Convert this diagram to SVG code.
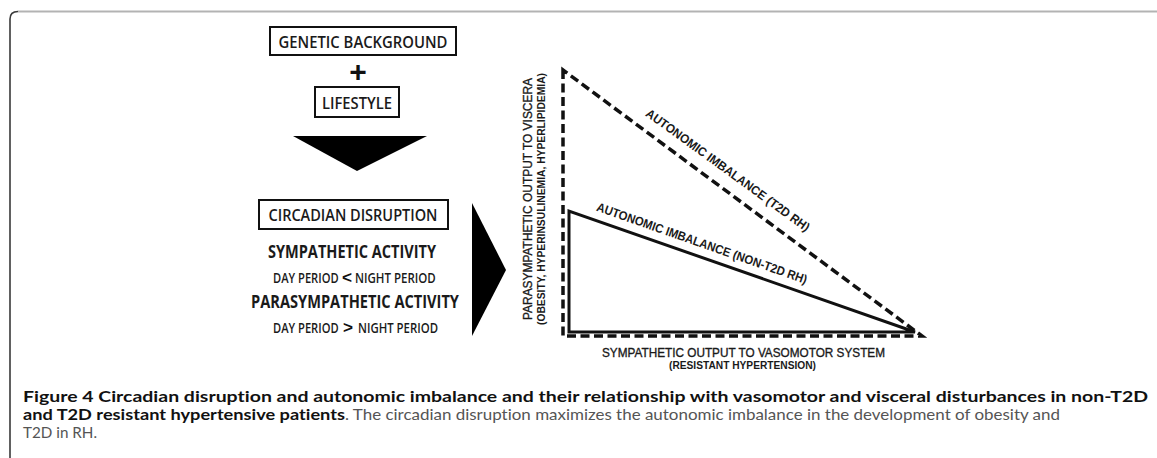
<svg xmlns="http://www.w3.org/2000/svg" width="1157" height="458" viewBox="0 0 1157 458">
<style>
.box{fill:#fff;stroke:#111;stroke-width:2}
.bt{font-family:"Open Sans","Liberation Sans",sans-serif;font-size:17px;font-weight:600;fill:#1a1a1a;text-anchor:middle}
.bb{font-family:"Open Sans","Liberation Sans",sans-serif;font-size:17px;font-weight:bold;fill:#1a1a1a;text-anchor:middle}
.sm{font-family:"Open Sans","Liberation Sans",sans-serif;font-size:14px;font-weight:600;fill:#1a1a1a}
.sym{font-family:"Liberation Sans",Arial,sans-serif;font-size:16px;font-weight:bold;fill:#111}
.ax{font-family:"Liberation Sans",Arial,sans-serif;fill:#1a1a1a;text-anchor:middle}
.med{stroke:#1a1a1a;stroke-width:0.35}
.dash{fill:none;stroke:#111;stroke-width:3.5;stroke-dasharray:9 4.5}
.solid{fill:none;stroke:#111;stroke-width:3}
.cap{font-family:Lato,"Open Sans",sans-serif;font-size:15px;font-variant-ligatures:none}
</style>
<rect width="1157" height="458" fill="#fff"/>
<g id="frame">
<path d="M10,458 V19 Q10,11.5 18,11.5" fill="none" stroke="#3a3a3a" stroke-width="1.6"/>
<path d="M18,11.5 H1157" fill="none" stroke="#b3b3b3" stroke-width="2"/>
</g>
<g id="genetic">
<rect class="box" x="270" y="27" width="186" height="28"/>
<text class="bt" x="363" y="47.5" textLength="169" lengthAdjust="spacingAndGlyphs">GENETIC BACKGROUND</text>
</g>
<g id="plus">
<text x="358" y="82" font-family="Liberation Sans,Arial,sans-serif" font-size="30" font-weight="bold" text-anchor="middle" fill="#111">+</text>
</g>
<g id="lifestyle">
<rect class="box" x="315" y="87" width="84" height="30"/>
<text class="bt" x="357" y="108.5" textLength="70" lengthAdjust="spacingAndGlyphs">LIFESTYLE</text>
</g>
<g id="connectors">
<polygon points="293,136 427,136 357,171" fill="#000"/>
<polygon points="472,203 506,270 472,336" fill="#000"/>
</g>
<g id="circadian">
<rect class="box" x="259" y="200" width="189" height="29"/>
<text class="bt" x="353" y="220.5" textLength="169" lengthAdjust="spacingAndGlyphs">CIRCADIAN DISRUPTION</text>
<text class="bb" x="352" y="258" textLength="168" lengthAdjust="spacingAndGlyphs">SYMPATHETIC ACTIVITY</text>
<text class="sm" transform="translate(273,283) scale(0.8,1)" textLength="82" lengthAdjust="spacingAndGlyphs">DAY PERIOD</text>
<text class="sym" x="342" y="283" textLength="10" lengthAdjust="spacingAndGlyphs">&lt;</text>
<text class="sm" transform="translate(355,283) scale(0.8,1)" textLength="101" lengthAdjust="spacingAndGlyphs">NIGHT PERIOD</text>
<text class="bb" x="355" y="308" textLength="208" lengthAdjust="spacingAndGlyphs">PARASYMPATHETIC ACTIVITY</text>
<text class="sm" transform="translate(273,333) scale(0.8,1)" textLength="82" lengthAdjust="spacingAndGlyphs">DAY PERIOD</text>
<text class="sym" x="343" y="333" textLength="10" lengthAdjust="spacingAndGlyphs">&gt;</text>
<text class="sm" transform="translate(358,333) scale(0.8,1)" textLength="100" lengthAdjust="spacingAndGlyphs">NIGHT PERIOD</text>
</g>
<g id="graph">
<path class="dash" d="M563,70 V336 H922 Z"/>
<path class="solid" d="M569,211 V332 H915 Z"/>
<text class="ax" font-size="12.5" font-weight="bold" transform="translate(728,170) rotate(36)" y="4.5" textLength="199" lengthAdjust="spacingAndGlyphs">AUTONOMIC IMBALANCE (T2D RH)</text>
<text class="ax" font-size="12.5" font-weight="bold" transform="translate(702,243) rotate(19.3)" y="4.5" textLength="222" lengthAdjust="spacingAndGlyphs">AUTONOMIC IMBALANCE (NON-T2D RH)</text>
<text class="ax med" font-size="13" transform="translate(527,199) rotate(-90)" y="4.5" textLength="242" lengthAdjust="spacingAndGlyphs">PARASYMPATHETIC OUTPUT TO VISCERA</text>
<text class="ax" font-size="10.5" font-weight="bold" transform="translate(541,199) rotate(-90)" y="3.5" textLength="252" lengthAdjust="spacingAndGlyphs">(OBESITY, HYPERINSULINEMIA, HYPERLIPIDEMIA)</text>
<text class="ax med" font-size="13" x="743.5" y="357" textLength="283" lengthAdjust="spacingAndGlyphs">SYMPATHETIC OUTPUT TO VASOMOTOR SYSTEM</text>
<text class="ax" font-size="10" font-weight="bold" x="742.5" y="368.5" textLength="147" lengthAdjust="spacingAndGlyphs">(RESISTANT HYPERTENSION)</text>
</g>
<g id="caption">
<text class="cap" x="23" y="402" font-weight="bold" fill="#111" textLength="1125" lengthAdjust="spacingAndGlyphs">Figure 4 Circadian disruption and autonomic imbalance and their relationship with vasomotor and visceral disturbances in non-T2D</text>
<text class="cap" x="23" y="420" font-weight="bold" fill="#111" textLength="322" lengthAdjust="spacingAndGlyphs">and T2D resistant hypertensive patients</text>
<text class="cap" x="345" y="420" fill="#555" textLength="715" lengthAdjust="spacingAndGlyphs">. The circadian disruption maximizes the autonomic imbalance in the development of obesity and</text>
<text class="cap" x="23" y="438" fill="#555" textLength="74" lengthAdjust="spacingAndGlyphs">T2D in RH.</text>
</g>
</svg>
